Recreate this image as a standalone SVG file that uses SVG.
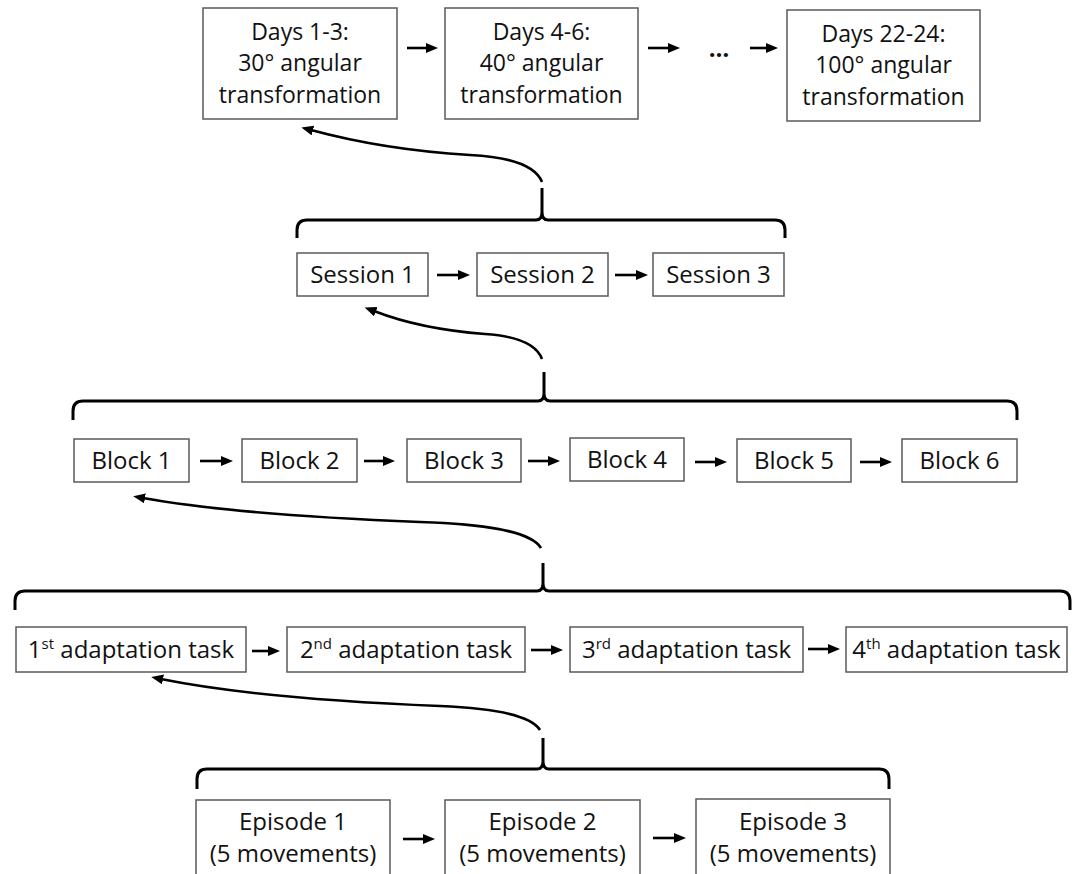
<svg xmlns="http://www.w3.org/2000/svg" width="1082" height="874" viewBox="0 0 1082 874">
<defs>
<style>
.box{fill:#fff;stroke:#5a5a5a;stroke-width:1.5}
.t{font-family:"Open Sans","Liberation Sans",sans-serif;font-size:24px;fill:#111;text-anchor:middle}
.t3{font-size:23px}
.sup{font-size:15px}
.a{stroke:#000;stroke-width:2.6;fill:none;marker-end:url(#ah)}
.c{stroke:#000;stroke-width:2.6;fill:none;marker-end:url(#ah)}
.br{stroke:#000;stroke-width:3;fill:none;stroke-linejoin:round}
</style>
<marker id="ah" markerUnits="userSpaceOnUse" markerWidth="13" markerHeight="11" refX="2" refY="5" orient="auto">
<path d="M0,0 L12,5 L0,10 z" fill="#000"/>
</marker>
</defs>
<rect width="1082" height="874" fill="#fff"/>

<g id="days1"><rect class="box" x="203" y="8" width="194" height="111"/>
<text class="t t3" x="300" y="39.5">Days 1-3:</text><text class="t t3" x="300" y="71">30° angular</text><text class="t t3" x="300" y="102.5">transformation</text></g>
<g id="days4"><rect class="box" x="445" y="8" width="193" height="111"/>
<text class="t t3" x="541.5" y="39.5">Days 4-6:</text><text class="t t3" x="541.5" y="71">40° angular</text><text class="t t3" x="541.5" y="102.5">transformation</text></g>
<g id="ellipsis"><text class="t" x="719" y="57" style="font-weight:bold">…</text></g>
<g id="days22"><rect class="box" x="787" y="10" width="193" height="111"/>
<text class="t t3" x="883.5" y="41.5">Days 22-24:</text><text class="t t3" x="883.5" y="73">100° angular</text><text class="t t3" x="883.5" y="104.5">transformation</text></g>

<g id="session1"><rect class="box" x="297" y="253" width="131" height="43"/><text class="t" x="362.5" y="283">Session 1</text></g>
<g id="session2"><rect class="box" x="477" y="253" width="131" height="43"/><text class="t" x="542.5" y="283">Session 2</text></g>
<g id="session3"><rect class="box" x="653" y="253" width="131" height="43"/><text class="t" x="718.5" y="283">Session 3</text></g>

<g id="block1"><rect class="box" x="74" y="439" width="115" height="43"/><text class="t" x="131.5" y="469">Block 1</text></g>
<g id="block2"><rect class="box" x="242" y="439" width="115" height="43"/><text class="t" x="299.5" y="469">Block 2</text></g>
<g id="block3"><rect class="box" x="407" y="439" width="114" height="43"/><text class="t" x="464" y="469">Block 3</text></g>
<g id="block4"><rect class="box" x="570" y="438" width="114" height="43"/><text class="t" x="627" y="468">Block 4</text></g>
<g id="block5"><rect class="box" x="737" y="439" width="114" height="43"/><text class="t" x="794" y="469">Block 5</text></g>
<g id="block6"><rect class="box" x="902" y="439" width="115" height="43"/><text class="t" x="959.5" y="469">Block 6</text></g>

<g id="task1"><rect class="box" x="16" y="627" width="230" height="45"/><text class="t" x="131" y="658">1<tspan class="sup" dy="-9">st</tspan><tspan dy="9"> adaptation task</tspan></text></g>
<g id="task2"><rect class="box" x="287" y="627" width="238" height="45"/><text class="t" x="406" y="658">2<tspan class="sup" dy="-9">nd</tspan><tspan dy="9"> adaptation task</tspan></text></g>
<g id="task3"><rect class="box" x="570" y="627" width="233" height="45"/><text class="t" x="686.5" y="658">3<tspan class="sup" dy="-9">rd</tspan><tspan dy="9"> adaptation task</tspan></text></g>
<g id="task4"><rect class="box" x="846" y="627" width="221" height="45"/><text class="t" x="956.5" y="658">4<tspan class="sup" dy="-9">th</tspan><tspan dy="9"> adaptation task</tspan></text></g>

<g id="episode1"><rect class="box" x="196" y="800" width="194" height="90"/><text class="t" x="293" y="830">Episode 1</text><text class="t" x="293" y="862">(5 movements)</text></g>
<g id="episode2"><rect class="box" x="445" y="800" width="195" height="90"/><text class="t" x="542.5" y="830">Episode 2</text><text class="t" x="542.5" y="862">(5 movements)</text></g>
<g id="episode3"><rect class="box" x="696" y="799" width="194" height="90"/><text class="t" x="793" y="830">Episode 3</text><text class="t" x="793" y="862">(5 movements)</text></g>

<g id="connectors">
<line class="a" x1="407" y1="48" x2="428" y2="48"/>
<line class="a" x1="648" y1="48" x2="670" y2="48"/>
<line class="a" x1="750" y1="48" x2="768" y2="48"/>
<line class="a" x1="437" y1="275" x2="460" y2="275"/>
<line class="a" x1="615" y1="275" x2="638" y2="275"/>
<line class="a" x1="200" y1="461" x2="223" y2="461"/>
<line class="a" x1="364" y1="461" x2="385" y2="461"/>
<line class="a" x1="528" y1="461" x2="550" y2="461"/>
<line class="a" x1="695" y1="462" x2="717" y2="462"/>
<line class="a" x1="860" y1="462" x2="882" y2="462"/>
<line class="a" x1="252" y1="651" x2="270" y2="651"/>
<line class="a" x1="531" y1="650" x2="553" y2="650"/>
<line class="a" x1="808" y1="649" x2="830" y2="649"/>
<line class="a" x1="403" y1="839" x2="425" y2="839"/>
<line class="a" x1="653" y1="838" x2="676" y2="838"/>

<path class="c" d="M542,182 C535,165 510,157 470,155 C420,152 370,146 311,130"/>
<path class="c" d="M542,359 C536,343 515,336 485,334 C445,331 410,325 374,311"/>
<path class="c" d="M541,548 C530,530 480,524 420,522 C320,518 220,512 143,498"/>
<path class="c" d="M540,730 C530,714 490,708 440,706 C340,702 240,695 161,679"/>

<path class="br" d="M297,238 V230 Q297,220 307,220 H536 Q542,220 542,212 V188 M785,238 V230 Q785,220 775,220 H548 Q542,220 542,212"/>
<path class="br" d="M73,420 V411 Q73,401 83,401 H538 Q544,401 544,393 V372 M1017,420 V411 Q1017,401 1007,401 H550 Q544,401 544,393"/>
<path class="br" d="M15,610 V601 Q15,591 25,591 H537 Q543,591 543,583 V563 M1070,610 V601 Q1070,591 1060,591 H549 Q543,591 543,583"/>
<path class="br" d="M197,789 V779 Q197,769 207,769 H537 Q543,769 543,761 V738 M889,789 V779 Q889,769 879,769 H549 Q543,769 543,761"/>
</g>
</svg>
